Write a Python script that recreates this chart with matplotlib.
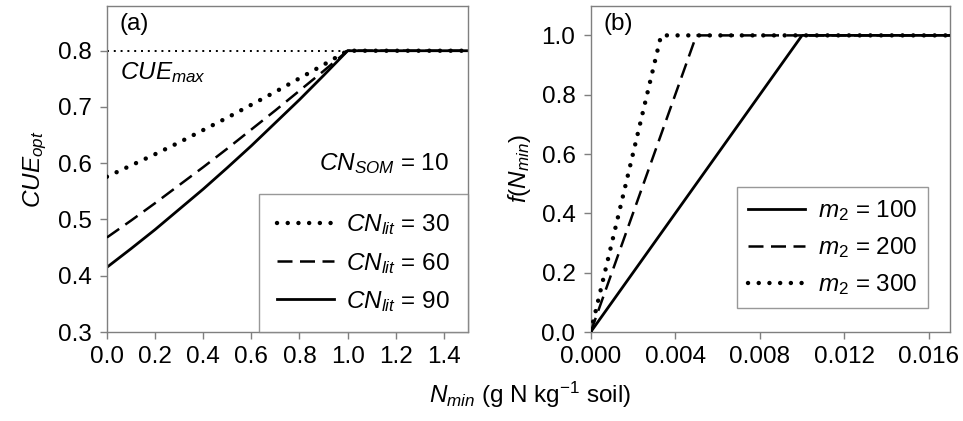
import numpy as np
import matplotlib
matplotlib.use("Agg")
import matplotlib.pyplot as plt

fs = 17.5
plt.rcParams.update({
    'font.family': 'Liberation Sans',
    'font.size': fs,
    'mathtext.fontset': 'custom',
    'mathtext.rm': 'Liberation Sans',
    'mathtext.it': 'Liberation Sans:italic',
    'mathtext.bf': 'Liberation Sans:bold',
})

# panel (a): optimal CUE against mineral N for three litter C:N ratios
n_min_a = [0.0, 0.1, 0.2, 0.3, 0.4, 0.5, 0.6, 0.7, 0.8, 0.9, 1.0, 1.5]
cue_cn30 = [0.576, 0.596, 0.616, 0.637, 0.659, 0.681, 0.704, 0.727, 0.751, 0.775, 0.800, 0.800]
cue_cn60 = [0.468, 0.498, 0.529, 0.561, 0.593, 0.626, 0.660, 0.694, 0.729, 0.764, 0.800, 0.800]
cue_cn90 = [0.415, 0.448, 0.482, 0.518, 0.554, 0.592, 0.631, 0.672, 0.713, 0.756, 0.800, 0.800]
cue_max = 0.8

# panel (b): N limitation function for three m2 values
n_min_m100 = [0.0, 0.01, 0.017]
f_m100 = [0.0, 1.0, 1.0]
n_min_m200 = [0.0, 0.005, 0.017]
f_m200 = [0.0, 1.0, 1.0]
n_min_m300 = [0.0, 0.00333, 0.017]
f_m300 = [0.0, 1.0, 1.0]

grey = '#7f7f7f'
dot_style = dict(linestyle=(0, (0.01, 2.4)), dash_capstyle='round', linewidth=3.2, color='black')
dash_style = dict(linestyle=(0, (6, 3)), linewidth=1.8, color='black')
solid_style = dict(linestyle='-', linewidth=2.0, color='black')

fig = plt.figure(figsize=(9.63, 4.21), dpi=100)
ax1 = fig.add_axes([0.111, 0.2114, 0.375, 0.775])
ax2 = fig.add_axes([0.6134, 0.2114, 0.3731, 0.775])

for ax in (ax1, ax2):
    for sp in ax.spines.values():
        sp.set_color(grey)
        sp.set_linewidth(1.0)
    ax.tick_params(direction='out', length=5, width=1, color=grey, labelsize=fs)
    ax.tick_params(axis='x', pad=5)
    ax.tick_params(axis='y', pad=6)

# --- (a)
ax1.plot([0, 1.5], [cue_max, cue_max], linestyle=(0, (1, 2.5)), linewidth=1.4, color='black', zorder=1)
ax1.plot(n_min_a, cue_cn90, label=r'$CN_{lit}$ = 90', zorder=2, **solid_style)
ax1.plot(n_min_a, cue_cn60, label=r'$CN_{lit}$ = 60', zorder=3, **dash_style)
ax1.plot(n_min_a, cue_cn30, label=r'$CN_{lit}$ = 30', zorder=4, **dot_style)
ax1.set_xlim(0, 1.5)
ax1.set_ylim(0.3, 0.88)
ax1.set_xticks(np.arange(0, 1.41, 0.2))
ax1.set_xticklabels(['%.1f' % v for v in np.arange(0, 1.41, 0.2)])
ax1.set_yticks(np.arange(0.3, 0.81, 0.1))
ax1.set_yticklabels(['%.1f' % v for v in np.arange(0.3, 0.81, 0.1)])
ax1.set_ylabel(r'$CUE_{opt}$', fontsize=fs, labelpad=6)
ax1.text(0.035, 0.945, '(a)', transform=ax1.transAxes, fontsize=fs, ha='left', va='center')
ax1.text(0.055, 0.762, r'$CUE_{max}$', fontsize=fs, ha='left', va='center')
ax1.text(1.42, 0.6, r'$CN_{SOM}$ = 10', fontsize=fs, ha='right', va='center')
h, l = ax1.get_legend_handles_labels()
leg1 = ax1.legend(h[::-1], l[::-1], loc='lower right', frameon=True, fancybox=False,
                  edgecolor=grey, borderaxespad=0, fontsize=fs, handlelength=2.35,
                  labelspacing=0.55, borderpad=0.75, handletextpad=0.5)
leg1.get_frame().set_linewidth(1.0)

# --- (b)
ax2.plot(n_min_m100, f_m100, label=r'$m_2$ = 100', zorder=2, **solid_style)
ax2.plot(n_min_m200, f_m200, label=r'$m_2$ = 200', zorder=3, **dash_style)
ax2.plot(n_min_m300, f_m300, label=r'$m_2$ = 300', zorder=4, **dot_style)
ax2.set_xlim(0, 0.017)
ax2.set_ylim(0, 1.1)
ax2.set_xticks(np.arange(0, 0.0161, 0.004))
ax2.set_xticklabels(['%.3f' % v for v in np.arange(0, 0.0161, 0.004)])
ax2.set_yticks(np.arange(0, 1.01, 0.2))
ax2.set_yticklabels(['%.1f' % v for v in np.arange(0, 1.01, 0.2)])
ax2.set_ylabel(r'$f(N_{min})$', fontsize=fs, labelpad=6)
ax2.text(0.035, 0.945, '(b)', transform=ax2.transAxes, fontsize=fs, ha='left', va='center')
leg2 = ax2.legend(loc='lower right', bbox_to_anchor=(0.939, 0.073), frameon=True, fancybox=False,
                  edgecolor=grey, borderaxespad=0, fontsize=fs, handlelength=2.35,
                  labelspacing=0.5, borderpad=0.45, handletextpad=0.5)
leg2.get_frame().set_linewidth(1.0)

fig.text(0.55, 0.062, r'$N_{min}$ (g N kg$^{-1}$ soil)', fontsize=fs, ha='center', va='center')

fig.savefig('out.png', dpi=100)
